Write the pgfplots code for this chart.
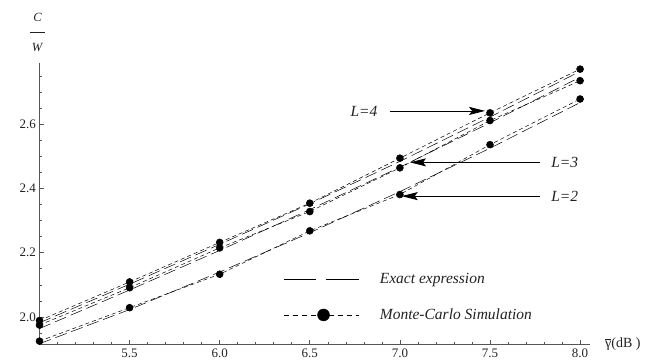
\documentclass[border=0pt]{standalone}
\usepackage{fontspec}
\setmainfont{Liberation Serif}
\usepackage{pgfplots}
\pgfplotsset{compat=1.18}
\usetikzlibrary{arrows.meta}
\definecolor{axgray}{HTML}{555555}
\definecolor{txt}{HTML}{222222}
\begin{document}
\begin{tikzpicture}
\begin{axis}[
  scale only axis, width=550.5pt, height=281pt,
  xmin=5, xmax=8.055, ymin=1.916, ymax=2.79,
  axis lines=left, axis line style={-, axgray, line width=0.8pt},
  clip=false,
  xtick={5.5,6,6.5,7,7.5,8}, ytick={2.0,2.2,2.4,2.6},
  minor xtick={5.1,5.2,5.3,5.4,5.6,5.7,5.8,5.9,6.1,6.2,6.3,6.4,6.6,6.7,6.8,6.9,7.1,7.2,7.3,7.4,7.6,7.7,7.8,7.9},
  minor ytick={1.95,2.05,2.1,2.15,2.25,2.3,2.35,2.45,2.5,2.55,2.65,2.7,2.75},
  tick align=inside,
  major tick length=4.5pt, minor tick length=2.5pt,
  every tick/.style={axgray, line width=0.6pt},
  tick label style={font=\fontsize{13}{15}\selectfont, text=txt},
  xticklabel style={yshift=-1.5pt},
  /pgf/number format/.cd, fixed, fixed zerofill, precision=1, assume math mode=true,
  /pgfplots/.cd,
  legend cell align=left,
  legend style={draw=none, fill=none, at={(rel axis cs:0.4423,0.167)}, anchor=west,
    font=\fontsize{15.5}{18}\selectfont\itshape, text=txt, row sep=20pt, inner sep=0pt,
    /tikz/every odd column/.append style={column sep=19pt}},
]
% Exact expression
\addplot[black, line width=0.5pt, dash pattern=on 12pt off 5pt, forget plot] coordinates {(5,1.982)(5.5,2.102)(6,2.226)(6.5,2.352)(7,2.484)(7.5,2.622)(8,2.764)};
\addplot[black, line width=0.5pt, dash pattern=on 12pt off 5pt, forget plot] coordinates {(5,1.964)(5.5,2.084)(6,2.207)(6.5,2.334)(7,2.466)(7.5,2.604)(8,2.746)};
\addplot[black, line width=0.5pt, dash pattern=on 12pt off 5pt, forget plot] coordinates {(5,1.917)(5.5,2.023)(6,2.140)(6.5,2.262)(7,2.390)(7.5,2.525)(8,2.667)};
% Monte-Carlo
\addplot[black, line width=0.5pt, dash pattern=on 4pt off 3pt, mark=*, mark size=3.5pt, mark options={solid}, forget plot] coordinates {(5,1.989)(5.5,2.109)(6,2.232)(6.5,2.354)(7,2.494)(7.5,2.635)(8,2.771)};
\addplot[black, line width=0.5pt, dash pattern=on 4pt off 3pt, mark=*, mark size=3.5pt, mark options={solid}, forget plot] coordinates {(5,1.975)(5.5,2.091)(6,2.215)(6.5,2.328)(7,2.464)(7.5,2.611)(8,2.735)};
\addplot[black, line width=0.5pt, dash pattern=on 4pt off 3pt, mark=*, mark size=3.5pt, mark options={solid}, forget plot] coordinates {(5,1.925)(5.5,2.029)(6,2.133)(6.5,2.268)(7,2.381)(7.5,2.536)(8,2.678)};
\addlegendimage{legend image code/.code={\draw[black, line width=0.7pt] (0pt,0pt) -- (32pt,0pt) (42pt,0pt) -- (75pt,0pt);}}
\addlegendentry{Exact expression}
\addlegendimage{legend image code/.code={\draw[black, line width=0.7pt, dash pattern=on 5pt off 4pt] (0pt,0pt) -- (75pt,0pt); \fill[black] (40pt,0pt) circle (6pt);}}
\addlegendentry{Monte-Carlo Simulation}
% annotations
\draw[-{Stealth[length=16pt,width=8pt,inset=3pt]}, line width=0.8pt] (axis cs:6.945,2.641) -- (axis cs:7.4727,2.641);
\draw[-{Stealth[length=16pt,width=8pt,inset=3pt]}, line width=0.8pt] (axis cs:7.778,2.481) -- (axis cs:7.056,2.481);
\draw[-{Stealth[length=16pt,width=8pt,inset=3pt]}, line width=0.8pt] (axis cs:7.778,2.376) -- (axis cs:7.010,2.376);
\node[font=\fontsize{15.5}{18}\selectfont\itshape, text=txt] at (axis cs:6.801,2.641) {L=4};
\node[font=\fontsize{15.5}{18}\selectfont\itshape, text=txt, anchor=west, inner sep=0pt] at (axis cs:7.839,2.481) {L=3};
\node[font=\fontsize{15.5}{18}\selectfont\itshape, text=txt, anchor=west, inner sep=0pt] at (axis cs:7.839,2.376) {L=2};
\node[font=\fontsize{12.5}{15}\selectfont, text=txt, align=center] at (rel axis cs:-0.0036,1.107) {\textit{C}\\\rule[4pt]{15pt}{0.6pt}\\\textit{W}};
\node[font=\fontsize{14}{16}\selectfont, text=txt, anchor=west, inner sep=0pt, xshift=15pt] at (rel axis cs:1,0) {$\overline{\hbox{γ}}$(dB )};
\end{axis}
\pgfresetboundingbox
\path[use as bounding box] (-39.5pt,-16pt) rectangle (611.5pt,344pt);
\end{tikzpicture}
\end{document}
